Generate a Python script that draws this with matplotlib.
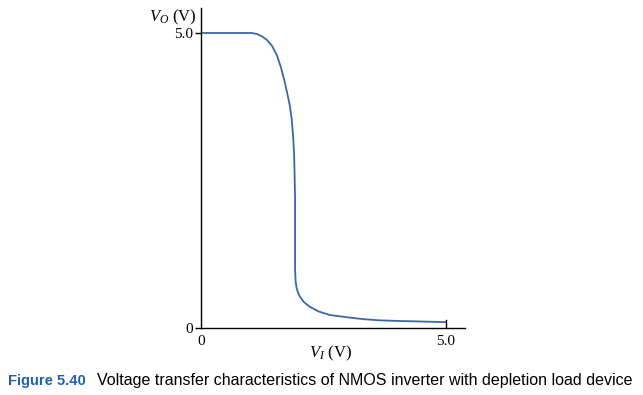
import numpy as np
import matplotlib
matplotlib.use('Agg')
import matplotlib.pyplot as plt

plt.rcParams['font.family'] = 'Liberation Serif'
plt.rcParams['mathtext.fontset'] = 'custom'
plt.rcParams['mathtext.it'] = 'Liberation Serif:italic'
plt.rcParams['mathtext.rm'] = 'Liberation Serif'

# transfer curve (V_I, V_O)
v_in = [0.0, 1.04, 1.15, 1.25, 1.35, 1.45, 1.55, 1.63, 1.70, 1.76, 1.81, 1.85,
        1.88, 1.90, 1.91, 1.92, 1.92, 1.93, 1.95, 1.98, 2.02, 2.10, 2.22, 2.40,
        2.63, 3.00, 3.31, 3.65, 4.00, 4.50, 5.00]
v_out = [5.0, 5.0, 4.98, 4.94, 4.88, 4.78, 4.62, 4.42, 4.20, 3.98, 3.78, 3.55,
         3.25, 2.95, 2.60, 2.20, 1.00, 0.80, 0.68, 0.60, 0.53, 0.44, 0.36, 0.28,
         0.22, 0.18, 0.15, 0.13, 0.12, 0.11, 0.10]

xticks = [0, 5.0]
xtick_labels = ['0', '5.0']
yticks = [0, 5.0]
ytick_labels = ['0', '5.0']

fig = plt.figure(figsize=(6.43, 3.95), dpi=100)
ax = fig.add_axes([201 / 643, 67 / 395, 264 / 643, 320 / 395])

ax.plot(v_in, v_out, color='#3c66aa', lw=1.3)
ax.plot([5.0, 5.0], [0, 0.14], color='black', lw=1.0)

ax.set_xlim(0, 264 / 49)
ax.set_ylim(0, 320 / 59)
for s in ['top', 'right']:
    ax.spines[s].set_visible(False)
ax.spines['left'].set_linewidth(1.0)
ax.spines['bottom'].set_linewidth(1.0)

ax.set_xticks(xticks)
ax.set_xticklabels(xtick_labels, fontsize=11)
ax.set_yticks(yticks)
ax.set_yticklabels(ytick_labels, fontsize=11)
ax.tick_params(axis='x', length=0, pad=5)
ax.tick_params(axis='y', length=4, width=1.0, pad=2)

fig.text(197 / 643, 1 - 17 / 395, '$V_O$ (V)', ha='right', va='center', fontsize=12)
fig.text(331 / 643, 1 - 353 / 395, '$V_I$ (V)', ha='center', va='center', fontsize=12)

fig.text(8 / 643, 1 - 381 / 395, 'Figure 5.40', ha='left', va='center',
         fontsize=10.6, fontweight='bold', color='#2060b0', family='Liberation Sans')
fig.text(97 / 643, 1 - 381 / 395,
         'Voltage transfer characteristics of NMOS inverter with depletion load device',
         ha='left', va='center', fontsize=11.5, family='Liberation Sans')

fig.savefig('out.png', dpi=100)
